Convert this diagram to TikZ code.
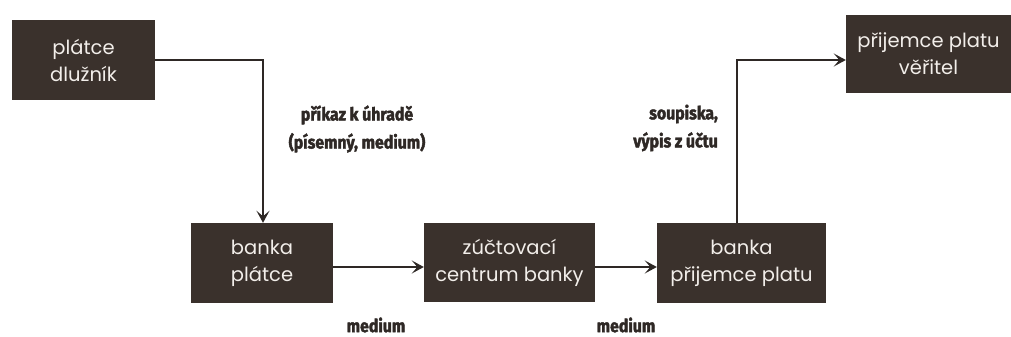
\documentclass[tikz,border=0pt]{standalone}
\usepackage{fontspec}
\setmainfont{Poppins}
\newfontfamily\lblfont{Fira Sans}[BoldFeatures={FakeBold=2.2,FakeStretch=0.88}]
\usetikzlibrary{arrows.meta,calc}
\definecolor{boxfill}{HTML}{3A312C}
\definecolor{boxtext}{HTML}{F2EEEA}
\definecolor{inkc}{HTML}{2E2825}
\begin{document}
\begin{tikzpicture}[x=1pt,y=-1pt,
  box/.style={fill=boxfill, draw=none, text=boxtext, align=center, inner sep=0pt,
    font=\fontsize{19.5}{27}\selectfont},
  lbl/.style={text=inkc, align=center, inner sep=0pt,
    font=\lblfont\bfseries\fontsize{18}{28}\selectfont},
  conn/.style={draw=inkc, line width=1.4pt},
  arr/.style={conn, -{Stealth[length=12pt,width=13pt,inset=5.5pt]}}]
\useasboundingbox (0,0) rectangle (1011,337);
\fill[white] (0,0) rectangle (1011,337);
\node[box, minimum width=143pt, minimum height=80pt] (A) at (83.5,60) {plátce\\dlužník};
\node[box, minimum width=142pt, minimum height=80pt] (B) at (262,263) {banka\\plátce};
\node[box, minimum width=171pt, minimum height=79pt] (C) at (509.5,262.5) {zúčtovací\\centrum banky};
\node[box, minimum width=169pt, minimum height=80pt] (D) at (741.5,263) {banka\\přijemce platu};
\node[box, minimum width=165pt, minimum height=78pt] (E) at (928.5,54) {přijemce platu\\věřitel};
\coordinate (b1) at ($(B.north)+(1,0)$);
\coordinate (d1) at ($(D.north)+(-4.5,0)$);
\coordinate (e1) at ($(E.west)+(0,6)$);
\draw[arr] (A.east) -| (b1);
\draw[arr] ($(B.east)+(0,4)$) -- ($(C.west)+(0,4.5)$);
\draw[arr] ($(C.east)+(0,4.5)$) -- ($(D.west)+(0,4)$);
\draw[arr] (d1) |- (e1);
\node[lbl] (l1) at (357,129) {příkaz k úhradě\\(písemný, medium)};
\node[lbl, align=right, anchor=east] (l2) at (718,128) {soupiska,\\výpis z účtu};
\node[lbl] (m1) at (376,325) {medium};
\node[lbl] (m2) at (626,325) {medium};
\end{tikzpicture}
\end{document}
